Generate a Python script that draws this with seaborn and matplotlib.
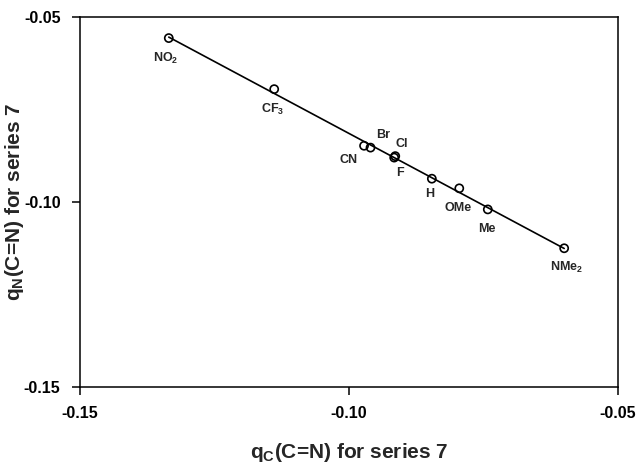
import pandas as pd
import seaborn as sns
import matplotlib
matplotlib.use("Agg")
import matplotlib.pyplot as plt


# Values

substituents = ["NO$_2$", "CF$_3$", "CN", "Br", "Cl", "F", "H", "OMe", "Me", "NMe$_2$"]
q_c = [-0.1335, -0.1139, -0.0972, -0.0960, -0.0914, -0.0916, -0.0846, -0.0795, -0.0742, -0.0600]
q_n = [-0.0557, -0.0695, -0.0848, -0.0853, -0.0876, -0.0880, -0.0937, -0.0963, -0.1020, -0.1125]

x_ticks = [-0.15, -0.10, -0.05]
x_ticklabels = ["-0.15", "-0.10", "-0.05"]
y_ticks = [-0.15, -0.10, -0.05]
y_ticklabels = ["-0.15", "-0.10", "-0.05"]

# label offsets (points) so the names sit next to their circles
label_offsets = {
    "NO$_2$": (-2, -15), "CF$_3$": (-1, -14.5), "CN": (-11.5, -10),
    "Br": (9, 9), "Cl": (4.5, 8.5), "F": (4, -11), "H": (-1.5, -11),
    "OMe": (-1, -14), "Me": (-1, -14), "NMe$_2$": (1.5, -14),
}

df = pd.DataFrame({"q_c": q_c, "q_n": q_n, "name": substituents})


# Style

sns.set_theme(style="ticks")
plt.rcParams["font.family"] = ["Liberation Sans", "DejaVu Sans"]
plt.rcParams["font.weight"] = "bold"
plt.rcParams["mathtext.fontset"] = "custom"
plt.rcParams["mathtext.rm"] = "Liberation Sans:bold"
plt.rcParams["mathtext.it"] = "Liberation Sans:bold"
plt.rcParams["mathtext.bf"] = "Liberation Sans:bold"
plt.rcParams["mathtext.default"] = "rm"


# Plot

fig, ax = plt.subplots(figsize=(6.39, 4.63), dpi=100)
fig.subplots_adjust(left=0.1252, right=0.9671, bottom=0.1641, top=0.9633)

sns.regplot(data=df, x="q_c", y="q_n", ci=None, scatter=False, truncate=True,
            line_kws={"color": "black", "linewidth": 1.2}, ax=ax)
sns.scatterplot(data=df, x="q_c", y="q_n", marker="o", s=34, color="black",
                facecolors="none", edgecolor="black", linewidth=1.2,
                zorder=3, ax=ax)

for name, xv, yv in zip(substituents, q_c, q_n):
    dx, dy = label_offsets[name]
    ax.annotate(name, (xv, yv), xytext=(dx, dy), textcoords="offset points",
                ha="center", va="center", fontsize=9, fontweight="bold")

ax.set_xlim(-0.15, -0.05)
ax.set_ylim(-0.15, -0.05)
ax.set_xticks(x_ticks)
ax.set_xticklabels(x_ticklabels)
ax.set_yticks(y_ticks)
ax.set_yticklabels(y_ticklabels)
ax.tick_params(direction="out", length=6, width=1.1, pad=8, labelsize=11.5,
               colors="black")

for side in ["left", "right", "top", "bottom"]:
    ax.spines[side].set_visible(True)
    ax.spines[side].set_linewidth(1.1)
    ax.spines[side].set_color("black")

ax.set_xlabel("q$_C$(C=N) for series 7", fontsize=15, fontweight="bold", va="baseline")
ax.set_ylabel("q$_N$(C=N) for series 7", fontsize=15, fontweight="bold", va="baseline")
ax.xaxis.set_label_coords(0.5, -0.192)
ax.yaxis.set_label_coords(-0.112, 0.5)

fig.savefig("out.png", dpi=100)
